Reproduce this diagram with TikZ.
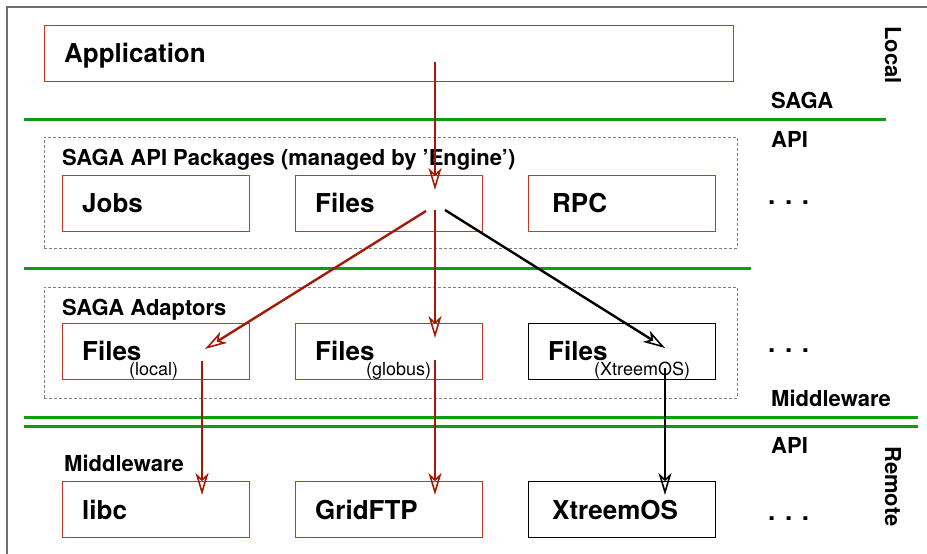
\documentclass[tikz,border=0pt]{standalone}
\usepackage{fontspec}
\setmainfont{TeX Gyre Heros}
\usetikzlibrary{arrows.meta}
\definecolor{boxred}{RGB}{200,55,35}
\definecolor{arrred}{RGB}{165,25,5}
\definecolor{lgreen}{RGB}{15,155,15}
\definecolor{framegray}{RGB}{110,110,110}
\begin{document}
\begin{tikzpicture}[x=1pt,y=-1pt,
 redbox/.style={draw=boxred,line width=1pt,minimum width=187pt,minimum height=56pt,inner sep=0pt,anchor=north west},
 blackbox/.style={redbox,draw=black},
 groupbox/.style={draw=gray,dash pattern=on 3pt off 2pt,line width=0.8pt,anchor=north west,inner sep=0pt,minimum width=693pt,minimum height=111pt},
 big/.style={font=\fontsize{26}{30}\selectfont\bfseries,anchor=base west,inner sep=0pt},
 lbl/.style={font=\fontsize{22}{26}\selectfont\bfseries,anchor=base west,inner sep=0pt},
 sub/.style={font=\fontsize{18}{22}\selectfont,anchor=base west,inner sep=0pt},
 sep/.style={draw=lgreen,line width=3pt},
 flow/.style={draw=arrred,line width=2.4pt,-{Stealth[open,length=22pt,width=13pt,inset=6pt,line width=1.6pt]}},
 bflow/.style={flow,draw=black},
]
\useasboundingbox (0,0) rectangle (927,554);
% frame
\draw[framegray,line width=2pt] (7,554) -- (7,7) -- (927,7);
% separators
\draw[sep] (24,119) -- (886,119);
\draw[sep] (24,268) -- (751,268);
\draw[sep] (24,417) -- (918,417);
\draw[sep] (24,426) -- (918,426);
% application
\node[redbox,minimum width=689pt] (app) at (44,25) {};
\node[big] (apptxt) at (64,62) {Application};
% API packages
\node[groupbox] (pkgs) at (44,137) {};
\node[lbl] (pkgstxt) at (62,165) {SAGA API Packages (managed by 'Engine')};
\node[redbox] (jobs) at (62,175) {};
\node[redbox] (files) at (295,175) {};
\node[redbox] (rpc) at (528,175) {};
\node[big] (jobstxt) at (82,212) {Jobs};
\node[big] (filestxt) at (315,212) {Files};
\node[big] (rpctxt) at (552,212) {RPC};
% adaptors
\node[groupbox] (adap) at (44,287) {};
\node[lbl] (adaptxt) at (62,315) {SAGA Adaptors};
\node[redbox] (flocal) at (62,323) {};
\node[redbox] (fglobus) at (295,323) {};
\node[blackbox] (fxos) at (528,323) {};
\node[big] (flocaltxt) at (82,360) {Files};
\node[big] (fglobustxt) at (315,360) {Files};
\node[big] (fxostxt) at (548,360) {Files};
\node[sub] (loc) at (129,375) {(local)};
\node[sub] (glob) at (366,375) {(globus)};
\node[sub] (xos) at (594,375) {(XtreemOS)};
% middleware
\node[lbl] (mwtxt) at (64,471) {Middleware};
\node[redbox] (libc) at (62,481) {};
\node[redbox] (gftp) at (295,481) {};
\node[blackbox] (xtreem) at (528,481) {};
\node[big] (libctxt) at (82,519) {libc};
\node[big] (gftptxt) at (315,519) {GridFTP};
\node[big] (xtreemtxt) at (552,519) {XtreemOS};
% right labels
\node[lbl,rotate=-90] (localtxt) at (885,26) {Local};
\node[lbl] (saga) at (771,108) {SAGA};
\node[lbl] (api1) at (771,147) {API};
\node[big] (dots1) at (768,204) {. . .};
\node[big] (dots2) at (768,352) {. . .};
\node[lbl] (mw2) at (771,406) {Middleware};
\node[lbl] (api2) at (771,453) {API};
\node[lbl,rotate=-90] (remotetxt) at (885,446) {Remote};
\node[big] (dots3) at (768,520) {. . .};
% connector points
\coordinate (p0) at (435,62);
\coordinate (p1) at (435,190);
\coordinate (q0) at (435,210);
\coordinate (q1) at (435,338);
\coordinate (r0) at (426,211);
\coordinate (r1) at (205,349);
\coordinate (s0) at (445,210);
\coordinate (s1) at (665,348);
\coordinate (t0) at (202,361);
\coordinate (t1) at (202,495);
\coordinate (u0) at (435,360);
\coordinate (u1) at (435,495);
\coordinate (v0) at (665,368);
\coordinate (v1) at (665,495);
\draw[flow] (p0) -- (p1);
\draw[flow] (q0) -- (q1);
\draw[flow] (r0) -- (r1);
\draw[bflow] (s0) -- (s1);
\draw[flow] (t0) -- (t1);
\draw[flow] (u0) -- (u1);
\draw[bflow] (v0) -- (v1);
\end{tikzpicture}
\end{document}
